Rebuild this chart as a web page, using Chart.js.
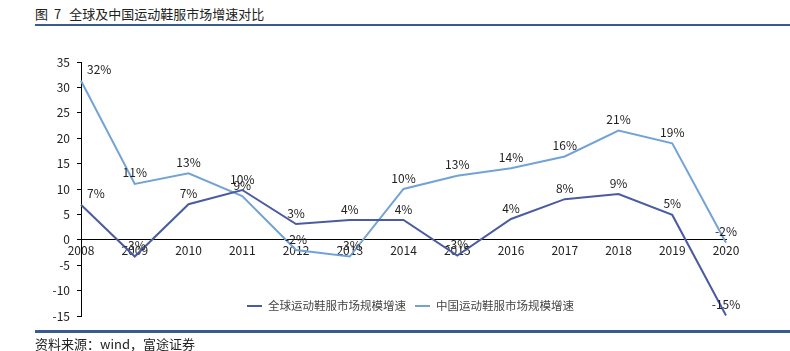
<!DOCTYPE html>
<html>
<head>
<meta charset="utf-8">
<script src="https://cdn.jsdelivr.net/npm/chart.js@4.4.1/dist/chart.umd.min.js"></script>
<style>
  body { margin: 0; background: #fff; font-family: "Noto Sans CJK SC", sans-serif; }
  #wrap { position: relative; width: 790px; height: 351px; overflow: hidden; }
  #title { position: absolute; left: 35px; top: 5px; font-size: 13px; color: #222; line-height: 18px; white-space: nowrap; }
  #title span { margin-right: 6px; }
  #topLine { position: absolute; left: 35px; right: 0; top: 24px; height: 2px; background: #3a5a92; }
  #bottomLine { position: absolute; left: 35px; right: 0; top: 330px; height: 2.5px; background: #3a5a92; }
  #source { position: absolute; left: 35px; top: 335px; font-size: 13px; color: #222; line-height: 18px; white-space: nowrap; }
  #legend { position: absolute; left: 247px; top: 297px; font-size: 11.5px; color: #444; white-space: nowrap; line-height: 16px; }
  #legend span.mark { display: inline-block; width: 15px; height: 2px; vertical-align: middle; margin-right: 6px; position: relative; top: -1px; }
  #legend span.item { margin-right: 9px; }
  canvas { position: absolute; left: 0; top: 0; }
</style>
</head>
<body>
<div id="wrap">
  <div id="title"><span>图</span><span style="margin-right:8px">7</span>全球及中国运动鞋服市场增速对比</div>
  <div id="topLine"></div>
  <canvas id="lineChart" width="790" height="351"></canvas>
  <div id="legend"></div>
  <div id="bottomLine"></div>
  <div id="source">资料来源：wind，富途证券</div>
</div>
<script>
    // years on the category axis
    var years = ['2008', '2009', '2010', '2011', '2012', '2013', '2014', '2015', '2016', '2017', '2018', '2019', '2020'];

    // plotted values (%)
    var globalValues = [6.9, -3.3, 7.0, 9.8, 3.1, 3.9, 3.9, -3.1, 4.1, 8.0, 9.0, 4.9, -14.9];
    var chinaValues = [31.3, 11.0, 13.1, 8.6, -2.0, -3.3, 10.0, 12.6, 14.1, 16.4, 21.5, 19.0, -0.6];

    // data labels as printed on the chart
    var globalLabels = ['7%', '-3%', '7%', '10%', '3%', '4%', '4%', '-3%', '4%', '8%', '9%', '5%', '-15%'];
    var chinaLabels = ['32%', '11%', '13%', '9%', '-2%', '-3%', '10%', '13%', '14%', '16%', '21%', '19%', '-2%'];

    var seriesNames = ['全球运动鞋服市场规模增速', '中国运动鞋服市场规模增速'];
    var seriesColors = ['#4a5ba2', '#72a3d6'];

    var yTicks = [-15, -10, -5, 0, 5, 10, 15, 20, 25, 30, 35];

    var fontFamily = '"Noto Sans CJK SC", sans-serif';

    // draws the percentage labels above each point
    var pointLabels = {
        id: 'pointLabels',
        afterDatasetsDraw: function (chart) {
            var ctx = chart.ctx;
            var allLabels = [globalLabels, chinaLabels];
            ctx.save();
            ctx.font = '12px ' + fontFamily;
            ctx.fillStyle = '#222';
            ctx.textBaseline = 'middle';
            chart.data.datasets.forEach(function (ds, di) {
                var meta = chart.getDatasetMeta(di);
                meta.data.forEach(function (pt, i) {
                    var txt = allLabels[di][i];
                    if (i === 0) {
                        ctx.textAlign = 'left';
                        ctx.fillText(txt, pt.x + 6, pt.y - 11);
                    } else {
                        ctx.textAlign = 'center';
                        ctx.fillText(txt, pt.x, pt.y - 11);
                    }
                });
            });
            ctx.restore();
        }
    };

    var ctx1 = document.getElementById('lineChart').getContext('2d');

    var lineChart = new Chart(ctx1, {
        type: 'line',
        data: {
            labels: years,
            datasets: [{
                label: seriesNames[0],
                data: globalValues,
                borderColor: seriesColors[0],
                borderWidth: 2,
                pointRadius: 0,
                tension: 0,
                fill: false
            }, {
                label: seriesNames[1],
                data: chinaValues,
                borderColor: seriesColors[1],
                borderWidth: 2,
                pointRadius: 0,
                tension: 0,
                fill: false
            }]
        },
        options: {
            responsive: false,
            animation: false,
            layout: { padding: { top: 62, bottom: 35, right: 64, left: 0 } },
            plugins: {
                legend: { display: false },
                tooltip: { enabled: false }
            },
            scales: {
                x: {
                    position: { y: 0 },
                    offset: false,
                    grid: { display: false, drawTicks: false },
                    border: { display: true, color: '#000', width: 1 },
                    ticks: {
                        padding: 3,
                        maxRotation: 0,
                        autoSkip: false,
                        color: '#222',
                        font: { family: fontFamily, size: 12 }
                    }
                },
                y: {
                    min: -15,
                    max: 35,
                    afterBuildTicks: function (scale) {
                        scale.ticks = yTicks.map(function (v) { return { value: v }; });
                    },
                    afterFit: function (scale) { scale.width = 81; },
                    grid: { display: true, drawOnChartArea: false, drawTicks: true, tickLength: 4, color: '#000' },
                    border: { display: true, color: '#000', width: 1 },
                    ticks: {
                        padding: 7,
                        color: '#222',
                        font: { family: fontFamily, size: 12 }
                    }
                }
            }
        },
        plugins: [pointLabels]
    });

    // legend below the lines, inside the plot
    var legendDiv = document.getElementById('legend');
    seriesNames.forEach(function (name, i) {
        var item = document.createElement('span');
        item.className = 'item';
        var mark = document.createElement('span');
        mark.className = 'mark';
        mark.style.background = seriesColors[i];
        item.appendChild(mark);
        item.appendChild(document.createTextNode(name));
        legendDiv.appendChild(item);
    });
</script>
</body>
</html>
